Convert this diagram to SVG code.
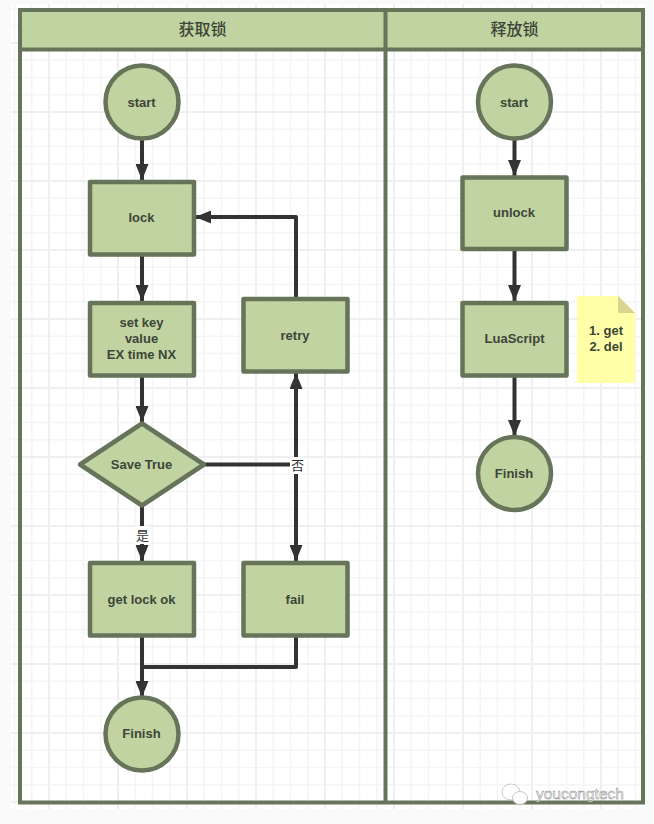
<svg xmlns="http://www.w3.org/2000/svg" width="654" height="824" viewBox="0 0 654 824">
<style>
.n{fill:#c0d3a0;stroke:#66745a;stroke-width:4.5;stroke-linejoin:round}
.t{font-family:"Liberation Sans",Arial,sans-serif;font-size:13px;font-weight:bold;fill:#3d4538;text-anchor:middle}
.h{font-family:"Noto Sans CJK SC",sans-serif;font-size:16px;font-weight:500;fill:#3d4538;text-anchor:middle}
.l{font-family:"Noto Sans CJK SC",sans-serif;font-size:13px;fill:#333;text-anchor:middle}
.c{fill:none;stroke:#333;stroke-width:4;stroke-linejoin:round}
.s{fill:none;stroke:#66745a;stroke-width:4}
</style>
<defs>
<marker id="a" markerUnits="userSpaceOnUse" markerWidth="16" markerHeight="13" refX="16" refY="6.500" viewBox="0 0 16 13" orient="auto"><path d="M0 0L16 6.500L0 13Z" fill="#333"/></marker>
<pattern id="G" x="48" y="42" width="69" height="69" patternUnits="userSpaceOnUse">
<path d="M18.250 0V69M35.500 0V69M52.750 0V69M0 18.250H69M0 35.500H69M0 52.750H69" fill="none" stroke="#f5f5f5" stroke-width="1.600"/>
<path d="M1 0V69M0 1H69" fill="none" stroke="#efefef" stroke-width="2"/>
</pattern>
</defs>
<rect width="654" height="824" fill="#fafafa"/>
<rect x="11" y="4" width="634" height="805" fill="#fff"/>
<rect x="11" y="4" width="634" height="805" fill="url(#G)"/>
<g id="lanes">
<rect x="20" y="10" width="623" height="39.500" fill="#c0d3a0"/>
<rect class="s" x="20" y="10" width="623" height="792.500"/>
<path class="s" d="M20 49.500H643M385.500 10V802.500"/>
<text class="h" x="202.500" y="35">获取锁</text>
<text class="h" x="514.500" y="35">释放锁</text>
</g>
<g id="connectors">
<path class="c" marker-end="url(#a)" d="M142 139V180"/>
<path class="c" marker-end="url(#a)" d="M142 255V301"/>
<path class="c" marker-end="url(#a)" d="M142 376V422"/>
<path class="c" marker-end="url(#a)" d="M142 507V561"/>
<path class="c" marker-end="url(#a)" d="M296 298V217H195"/>
<path class="c" marker-end="url(#a)" d="M205 464.500H296V373"/>
<path class="c" marker-end="url(#a)" d="M296 464.500V561"/>
<path class="c" marker-end="url(#a)" d="M142 636V697"/>
<path class="c" d="M296 636V667H142"/>
<path class="c" marker-end="url(#a)" d="M514.500 139V176"/>
<path class="c" marker-end="url(#a)" d="M514.500 250V301"/>
<path class="c" marker-end="url(#a)" d="M514.500 376V436"/>
<rect x="290" y="457" width="14" height="17" fill="#fff"/>
<text class="l" x="297.500" y="470">否</text>
<rect x="135" y="526" width="15" height="18" fill="#fff"/>
<text class="l" x="142.500" y="540">是</text>
</g>
<g id="start1"><circle class="n" cx="142" cy="102" r="36.500"/><text class="t" x="141.500" y="106.500">start</text></g>
<g id="lock"><rect class="n" x="90" y="182" width="104" height="72.500"/><text class="t" x="141.500" y="222">lock</text></g>
<g id="setkey"><rect class="n" x="90" y="303" width="104" height="72.500"/><text class="t" x="141.500" y="327">set key</text><text class="t" x="141.500" y="343">value</text><text class="t" x="141.500" y="359">EX time NX</text></g>
<g id="retry"><rect class="n" x="243.500" y="299" width="104" height="72.500"/><text class="t" x="295" y="340">retry</text></g>
<g id="save"><path class="n" d="M142 423.500L204 464.500L142 505.500L80 464.500Z"/><text class="t" x="141.500" y="469">Save True</text></g>
<g id="getlock"><rect class="n" x="90" y="563" width="104" height="72.500"/><text class="t" x="141.500" y="604">get lock ok</text></g>
<g id="fail"><rect class="n" x="243.500" y="563" width="104" height="72.500"/><text class="t" x="295" y="604">fail</text></g>
<g id="finish1"><circle class="n" cx="142" cy="734" r="36.500"/><text class="t" x="141.500" y="738">Finish</text></g>
<g id="start2"><circle class="n" cx="514.500" cy="102" r="36.500"/><text class="t" x="514" y="106.500">start</text></g>
<g id="unlock"><rect class="n" x="462.500" y="177.500" width="104" height="71.500"/><text class="t" x="514" y="217">unlock</text></g>
<g id="lua"><rect class="n" x="462.500" y="303" width="104" height="72.500"/><text class="t" x="514.500" y="343">LuaScript</text></g>
<g id="finish2"><circle class="n" cx="514.500" cy="473.500" r="36.500"/><text class="t" x="514" y="478">Finish</text></g>
<g id="note"><path d="M577 296H618L635 313V383H577Z" fill="#ffffa8"/><path d="M618 296L635 313H618Z" fill="#d9d48e"/><text class="t" x="606" y="335">1. get</text><text class="t" x="606" y="351">2. del</text></g>
<g id="watermark">
<ellipse cx="511" cy="792" rx="9" ry="8" fill="#fff" stroke="#bbb" stroke-width=".8"/>
<ellipse cx="520" cy="798" rx="7.500" ry="6.500" fill="#fff" stroke="#bbb" stroke-width=".8"/>
<text x="536" y="799" font-family="'Liberation Sans',Arial,sans-serif" font-size="15.500" fill="#fff" stroke="#888" stroke-width=".5">youcongtech</text>
</g>
</svg>
